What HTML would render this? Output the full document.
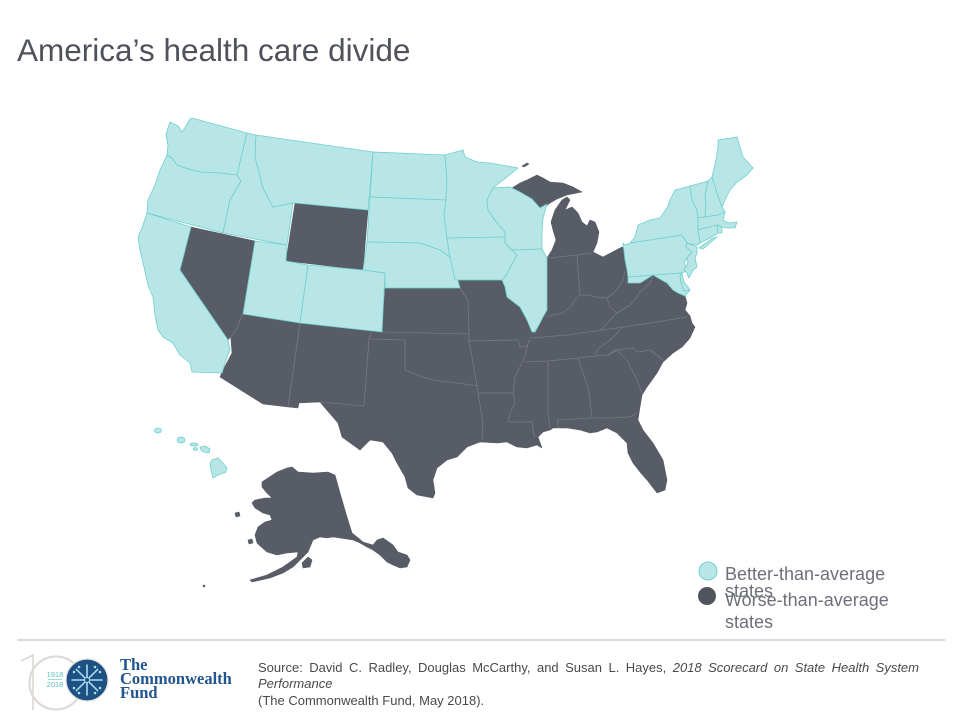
<!DOCTYPE html>
<html><head><meta charset="utf-8"><style>
html,body{margin:0;padding:0;background:#fff;}
body{width:960px;height:720px;position:relative;overflow:hidden;font-family:"Liberation Sans",Arial,sans-serif;}
#src{position:absolute;left:258px;top:659.5px;width:661px;font-size:13px;line-height:16.5px;color:#4a4a4a;text-align:justify;}
</style></head><body>
<svg width="960" height="720" viewBox="0 0 960 720" style="position:absolute;left:0;top:0">
<text x="17" y="61" font-family="Liberation Sans, Arial, sans-serif" font-size="31.5" fill="#4f525c">America’s health care divide</text>

<!-- dark states -->
<g fill="#585c67" stroke="#585c67" stroke-width="0.6" stroke-linejoin="round">
<polygon points="240,315 243,314 300,323 382,332 385,288 460,288 455,280 502,280 505,287 507,297 520,307 527,320 532,332 535,332 540,323 543,317 547,310 547,258 552,250 556,240 553,230 551,222 555,210 562,200 567,197 570,200 565,210 572,207 578,213 582,222 587,226 590,220 595,222 599,232 597,243 593,252 603,257 622,247 626,250 628,277 628,283 640,283 653,275 658,278 667,283 673,290 678,293 685,296 687,303 685,310 690,316 692,323 695,327 690,338 682,347 673,353 663,362 657,373 647,387 642,395 640,407 638,420 643,430 653,443 663,460 667,480 665,490 657,493 647,480 640,472 633,463 628,453 627,443 617,433 607,428 597,432 590,433 580,430 567,428 553,428 550,430 543,432 538,437 542,448 537,445 527,448 517,447 507,442 497,443 480,442 467,447 457,457 447,460 437,468 433,480 435,493 433,498 417,495 408,488 405,477 397,463 392,453 383,442 370,440 360,450 342,437 338,423 320,402 299,403 298,408 288,407 263,404 220,377 222,372 232,353 230,327"/>
<polygon points="295,203 368,210 363,270 286,261"/>
<polygon points="191,227 255,241 243,314 240,318 240,325 228,340 180,270"/>
<polygon points="512,188 520,183 527,180 537,175 543,178 550,182 563,183 573,187 582,192 567,195 557,199 550,203 545,207 540,208 532,199 520,192"/>
<polygon points="522,166 527,163 529,164 524,167"/>
<polygon points="250,580 267,575 283,567 297,557 298,552 287,553 277,555 267,552 257,543 255,535 258,527 265,522 272,520 270,515 263,513 255,508 252,503 255,500 265,498 272,498 267,493 262,487 262,482 268,478 277,472 287,468 292,467 298,472 313,473 328,472 335,475 340,493 347,517 352,533 357,537 363,542 373,545 377,540 383,538 393,545 398,552 407,555 410,560 407,567 400,568 393,565 387,562 380,555 373,550 367,547 360,543 353,540 340,538 333,537 327,538 320,537 313,540 308,552 303,557 300,560 293,567 283,573 270,578 252,582"/>
<polygon points="302,563 308,557 312,560 310,567 303,568"/>
<polygon points="248,540 252,539 253,543 249,544"/>
<polygon points="235,513 239,512 240,516 236,517"/>
<circle cx="204" cy="586" r="1"/>
</g>

<!-- dark interior borders -->
<g fill="none" stroke="#767983" stroke-width="0.8" stroke-linejoin="round">
<polyline points="243,314 240,320 236,330 230,338"/>
<polyline points="300,323 288,407"/>
<polyline points="371,332 369,339 364,406 320,402"/>
<polyline points="382,332 469,334"/>
<polyline points="460,288 463,293 468,300 469,334 469,341 472,357 477,386 478,393"/>
<polyline points="369,339 405,340 405,370 420,376 433,380 450,382 465,384 477,386"/>
<polyline points="469,341 518,340 520,347 527,346 530,340"/>
<polyline points="530,340 528,343 525,357 520,367 515,377 513,393 478,393 483,423 482,440"/>
<polyline points="513,393 515,403 510,413 508,422 532,422 533,430 535,437"/>
<polyline points="530,338 567,335 617,328 657,322 687,317"/>
<polyline points="547,317 553,315 563,313 572,305 575,300 580,295 587,295 597,297 607,298 615,292 622,282 625,272"/>
<polyline points="577,255 580,295"/>
<polyline points="548,258 577,255 592,253"/>
<polyline points="607,298 610,307 617,313 610,320 600,331"/>
<polyline points="617,313 630,305 637,297 640,292 650,283 653,277"/>
<polyline points="622,328 615,335 610,340 603,345 597,350 595,355"/>
<polyline points="525,362 548,361 578,358 595,356 607,355"/>
<polyline points="548,361 548,413 550,428"/>
<polyline points="578,358 588,387 590,400 592,418"/>
<polyline points="558,428 558,420 592,418 610,418 630,417 637,413"/>
<polyline points="607,356 617,350 627,360 637,380 642,393"/>
<polyline points="607,356 615,350 633,348 637,352 650,350 663,360"/>
</g>

<!-- light states -->
<g fill="#b8e6e6" stroke="#6fcfcf" stroke-width="0.8" stroke-linejoin="round">
<polygon points="170,122 178,126 182,132 186,126 190,119 192,118 247,133 237,175 220,173 200,172 185,168 177,165 172,158 167,155 168,145 166,135 168,128"/>
<polygon points="167,155 172,158 177,165 185,168 200,172 220,173 237,175 241,181 230,200 223,233 147,213 148,200 155,185 160,170"/>
<polygon points="147,213 191,227 180,270 228,340 230,350 227,357 222,373 192,372 190,363 180,355 173,343 163,337 158,330 155,315 153,297 148,285 143,263 140,250 138,237 142,228"/>
<polygon points="247,133 256,135 255,157 263,188 273,207 293,203 287,245 223,233 230,200 241,181 237,175"/>
<polygon points="256,135 373,152 368,210 295,203 293,203 273,207 263,188 255,157"/>
<polygon points="255,241 287,245 286,261 308,265 300,323 243,314"/>
<polygon points="308,265 363,270 385,273 382,332 300,323"/>
<polygon points="373,152 445,155 447,180 446,200 370,197"/>
<polygon points="370,197 446,200 444,215 448,230 448,245 450,257 440,250 420,243 367,242"/>
<polygon points="367,242 420,243 440,250 450,257 455,270 460,288 385,288 385,273 363,270"/>
<polygon points="445,155 463,150 465,157 477,162 490,163 518,168 493,188 487,200 488,210 497,223 505,232 505,237 447,238 444,215 446,200 447,180"/>
<polygon points="447,238 505,237 505,243 512,250 517,255 510,268 505,277 502,280 455,280 450,257 448,245"/>
<polygon points="493,188 510,187 520,192 532,199 540,208 547,204 543,218 542,232 542,249 512,250 505,243 505,237 505,232 497,223 488,210 487,200"/>
<polygon points="512,250 542,249 547,258 547,310 543,317 540,323 535,332 532,332 527,320 520,307 507,297 505,287 502,280 505,277 510,268 517,255"/>
<polygon points="623,243 625,245 630,243 682,235 687,243 686,247 692,252 687,258 684,263 688,270 682,273 628,277 627,270 625,260"/>
<polygon points="630,243 635,237 638,225 650,220 660,218 667,208 670,200 675,190 690,186 692,200 697,210 698,218 698,230 700,243 697,245 690,244 687,243 682,235"/>
<polygon points="699,248 713,238 717,237 703,249"/>
<polygon points="690,186 708,181 705,195 706,205 705,217 698,218 697,210 692,200"/>
<polygon points="708,181 712,177 717,193 722,207 725,212 718,215 705,217 706,205 705,195"/>
<polygon points="712,177 716,160 718,147 718,140 737,137 743,157 753,168 747,175 737,182 730,190 725,200 722,207 717,193"/>
<polygon points="698,218 705,217 718,215 725,212 723,220 728,223 737,222 735,228 728,228 722,227 718,225 698,230"/>
<polygon points="698,230 717,225 718,233 710,238 700,243"/>
<polygon points="717,225 722,227 722,233 718,233"/>
<polygon points="687,243 697,247 697,253 695,258 697,267 693,270 689,278 687,273 684,270 688,263 687,258 692,252 686,247"/>
<polygon points="628,277 682,273 680,276 681,282 684,291 690,290 685,296 678,293 673,290 667,283 658,278 653,275 640,283 628,283"/>
<polygon points="682,274 684,282 688,287 690,290 684,291 681,282 680,276"/>
<!-- Hawaii -->
<ellipse cx="158" cy="430.5" rx="3.5" ry="2.5"/>
<ellipse cx="181" cy="440" rx="4" ry="3"/>
<ellipse cx="194" cy="444.5" rx="4" ry="1.5"/>
<ellipse cx="195.5" cy="449" rx="2" ry="1.3"/>
<polygon points="200,447 205,446 210,449 209,453 204,452 201,450"/>
<polygon points="212,460 218,458 222,462 227,468 226,472 218,475 213,478 211,470 210,464"/>
</g>

<!-- legend -->
<circle cx="708" cy="571" r="9" fill="#b8e6e6" stroke="#6fcfcf" stroke-width="1"/>
<circle cx="707" cy="596" r="9" fill="#50545f"/>
<g font-family="Liberation Sans, Arial, sans-serif" font-size="18" fill="#6d707a">
<text x="725" y="580">Better-than-average</text>
<text x="725" y="597">states</text>
<text x="725" y="606">Worse-than-average</text>
<text x="725" y="628">states</text>
</g>

<line x1="17" y1="640" x2="945" y2="640" stroke="#b4b4b4" stroke-width="1"/>

<!-- logo -->
<path d="M21,661 L33,655 L33,710" fill="none" stroke="#dcd8d3" stroke-width="1.6"/>
<circle cx="56" cy="683" r="26.5" fill="none" stroke="#dcd8d3" stroke-width="2"/>
<text x="55" y="677" font-family="Liberation Sans, Arial, sans-serif" font-size="7.5" fill="#5cc3c3" text-anchor="middle">1918</text>
<line x1="48" y1="679.5" x2="62" y2="679.5" stroke="#5cc3c3" stroke-width="0.6"/>
<text x="55" y="687" font-family="Liberation Sans, Arial, sans-serif" font-size="7.5" fill="#5cc3c3" text-anchor="middle">2018</text>
<circle cx="87" cy="680" r="21" fill="#1d5083" stroke="#e6e2dd" stroke-width="1.2"/>
<g stroke="#a9dcee" stroke-width="1.6" stroke-linecap="round">
<line x1="87" y1="665" x2="87" y2="695"/>
<line x1="72" y1="680" x2="102" y2="680"/>
<line x1="76.4" y1="669.4" x2="97.6" y2="690.6"/>
<line x1="76.4" y1="690.6" x2="97.6" y2="669.4"/>
</g>
<g fill="#a9dcee">
<circle cx="87" cy="680" r="2.5" fill="#1d5083" stroke="#a9dcee" stroke-width="1"/>
<circle cx="79" cy="667" r="1.3"/><circle cx="95" cy="667" r="1.3"/>
<circle cx="79" cy="693" r="1.3"/><circle cx="95" cy="693" r="1.3"/>
<circle cx="74" cy="672" r="1.3"/><circle cx="100" cy="672" r="1.3"/>
<circle cx="74" cy="688" r="1.3"/><circle cx="100" cy="688" r="1.3"/>
</g>
<g font-family="Liberation Serif, Times New Roman, serif" font-weight="bold" font-size="16.5" fill="#21558e">
<text x="120" y="670">The</text>
<text x="120" y="684">Commonwealth</text>
<text x="120" y="698">Fund</text>
</g>
</svg>
<div id="src">Source: David C. Radley, Douglas McCarthy, and Susan L. Hayes, <i>2018 Scorecard on State Health System Performance</i><br>(The Commonwealth Fund, May 2018).</div>
</body></html>
